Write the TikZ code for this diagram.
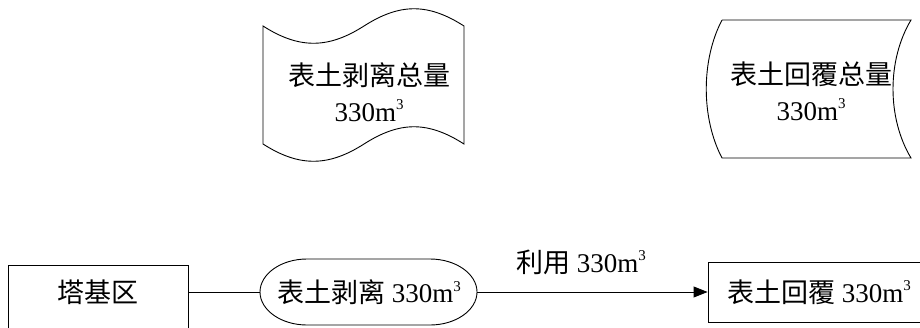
\documentclass[tikz,border=0pt]{standalone}
\usepackage{fontspec}
\setmainfont{Liberation Serif}
\newfontfamily\cjk{Noto Sans CJK SC}
\usetikzlibrary{arrows.meta}
\newcommand{\zh}[1]{{\cjk #1}}
\newcommand{\cubm}{m\raisebox{0.42em}{\fontsize{15pt}{15pt}\selectfont 3}}
\begin{document}
\begin{tikzpicture}[x=1pt,y=-1pt,
  line width=0.9pt,
  txt/.style={font=\fontsize{27pt}{36pt}\selectfont, inner sep=0pt, align=center},
  holder/.style={draw=none, inner sep=0pt}]
\useasboundingbox (0,0) rectangle (920,327);
\clip (0,0) rectangle (920,327);
\fill[white] (0,0) rectangle (920,327);

% tape shape (top left)
\coordinate (tl) at (263,26);
\coordinate (tm) at (364,26);
\coordinate (tr) at (464,26);
\coordinate (bl) at (263,144);
\coordinate (bm) at (364,144);
\coordinate (br) at (464,144);
\draw (tl) .. controls (299,49) and (328,49) .. (tm)
           .. controls (400,3) and (428,3) .. (tr)
           -- (br)
           .. controls (428,121) and (400,121) .. (bm)
           .. controls (328,167) and (299,167) .. (bl) -- cycle;
\node[txt] (strip-total) at (369,92) {\zh{表土剥离总量}\\330\cubm};

% stored-data like shape (top right)
\coordinate (ra) at (722,20);
\coordinate (rb) at (911,20);
\coordinate (rc) at (911,158);
\coordinate (rd) at (722,158);
\draw (ra) -- (rb) .. controls (887,60) and (887,118) .. (rc)
      -- (rd) .. controls (701,118) and (701,60) .. (ra);
\node[txt] (cover-total) at (811,91) {\zh{表土回覆总量}\\330\cubm};

% bottom row
\node[holder, draw, minimum width=180pt, minimum height=80pt] (jiqu) at (98,305) {};
\node[txt] (jiqutext) at (98,292) {\zh{塔基区}};

\node[holder, minimum width=217pt, minimum height=66pt] (strip) at (368.5,292) {};
\draw (307,259) -- (430,259)
      .. controls (456,259) and (477,274) .. (477,292)
      .. controls (477,310) and (456,325) .. (430,325)
      -- (307,325)
      .. controls (281,325) and (260,310) .. (260,292)
      .. controls (260,274) and (281,259) .. (307,259) -- cycle;
\node[txt] (striptext) at (369,292) {\zh{表土剥离} 330\cubm};

\node[holder, draw, minimum width=222pt, minimum height=60pt] (cover) at (819,292) {};
\node[txt] (covertext) at (819,292) {\zh{表土回覆} 330\cubm};

\draw (jiqutext -| jiqu.east) -- (strip.west);
\draw[-{Triangle[length=14pt,width=11pt]}] (strip.east) -- (cover.west);
\node[txt] (uselabel) at (581,262) {\zh{利用} 330\cubm};
\end{tikzpicture}
\end{document}
